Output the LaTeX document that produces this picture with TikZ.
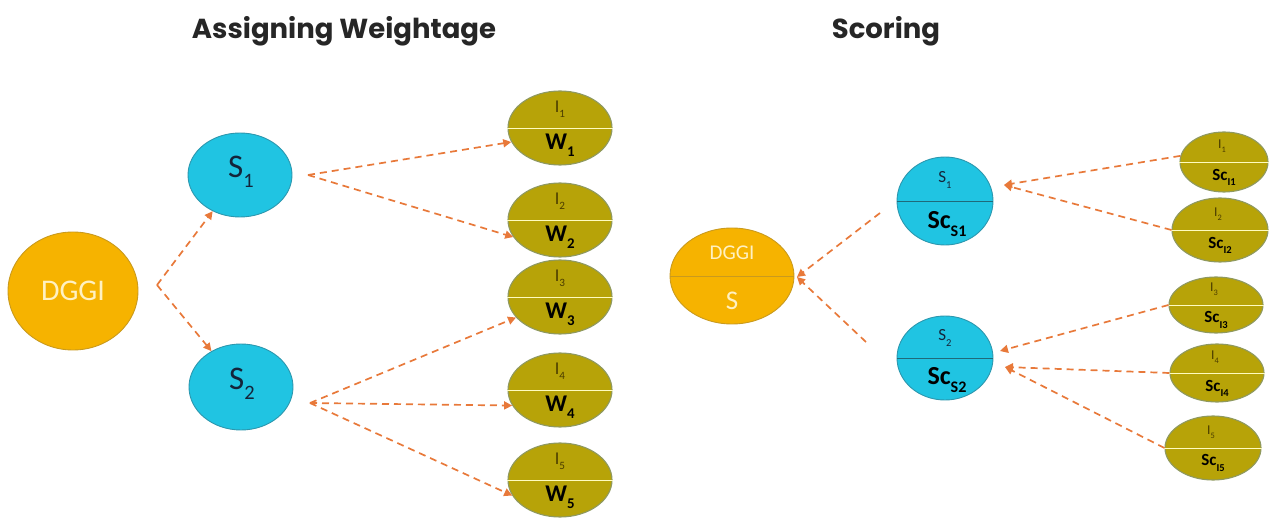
\documentclass[tikz,border=0pt]{standalone}
\usepackage{fontspec}
\usepackage{graphicx}
\setmainfont{Carlito}
\newfontfamily\titlefont{Poppins}
\usetikzlibrary{shapes.geometric,arrows.meta}
\definecolor{orangeC}{HTML}{F6B300}
\definecolor{orangeB}{HTML}{C99A1E}
\definecolor{cyanC}{HTML}{20C4E2}
\definecolor{cyanB}{HTML}{2C97AE}
\definecolor{oliveC}{HTML}{B7A308}
\definecolor{oliveB}{HTML}{8F9960}
\definecolor{arrowC}{HTML}{E8793A}
\definecolor{creamC}{HTML}{FFF1C2}
\definecolor{navyC}{HTML}{14243A}
\definecolor{darkOl}{HTML}{4A3C00}
\newcommand\mysub[1]{\raisebox{-0.3em}{\scalebox{0.62}{#1}}}
\tikzset{
  orangeE/.style={ellipse, fill=orangeC, draw=orangeB, line width=0.9pt, inner sep=0pt},
  cyanE/.style={ellipse, fill=cyanC, draw=cyanB, line width=0.9pt, inner sep=0pt},
  oliveE/.style={ellipse, fill=oliveC, draw=oliveB, line width=1.1pt, inner sep=0pt},
  divW/.style={draw=white!75!yellow, line width=0.8pt},
  divC/.style={draw=cyanB!70!black, line width=0.9pt},
  divO/.style={draw=orangeB, line width=0.8pt},
  arr/.style={draw=arrowC, line width=1.7pt, dash pattern=on 7pt off 5pt,
    -{Triangle[length=8pt,width=8pt]}},
  ttl/.style={font=\titlefont\bfseries\fontsize{27.5}{32}\selectfont, text=black!85},
  txt/.style={inner sep=0pt}
}
\begin{document}
\begin{tikzpicture}[x=1pt,y=-1pt]
\useasboundingbox (0,0) rectangle (1272,518);
% titles
\node[ttl] (t1) at (344,31) {Assigning Weightage};
\node[ttl] (t2) at (886,31) {Scoring};

% ---------- left side ----------
\node[orangeE, minimum width=130pt, minimum height=118pt] (dggi) at (73,291) {};
\node[txt, text=creamC, font=\fontsize{30}{34}\selectfont] (dggiT) at (dggi.center) {DGGI};
\node[cyanE, minimum width=104pt, minimum height=84pt] (s1) at (240,175) {};
\node[txt, text=navyC, font=\fontsize{33}{36}\selectfont] (s1T) at (241,172) {S\mysub{1}};
\node[cyanE, minimum width=104pt, minimum height=86pt] (s2) at (241,387) {};
\node[txt, text=navyC, font=\fontsize{33}{36}\selectfont] (s2T) at (242,384) {S\mysub{2}};

\foreach \n/\y in {1/128,2/220,3/297,4/390,5/480}{
  \node[oliveE, minimum width=104pt, minimum height=74pt] (li\n) at (560,\y) {};
  \draw[divW] (li\n.west) -- (li\n.east);
  \node[txt, text=darkOl, font=\fontsize{18}{20}\selectfont] (liI\n) at (560,\y-19) {I\mysub{\n}};
  \node[txt, text=black, font=\bfseries\fontsize{24}{27}\selectfont] (liW\n) at (560,\y+17) {W\mysub{\n}};
}

\coordinate (h0) at (157,285);
\coordinate (h1) at (308,175);
\coordinate (h2) at (310,403);
\draw[arr] (h0) -- (s1);
\draw[arr] (h0) -- (s2);
\draw[arr] (h1) -- (li1.196);
\draw[arr] (h1) -- (li2.200);
\draw[arr] (h2) -- (li3.205);
\draw[arr] (h2) -- (li4.198);
\draw[arr] (h2) -- (li5.198);

% ---------- right side ----------
\node[orangeE, minimum width=124pt, minimum height=96pt] (rd) at (732,276) {};
\draw[divO] (rd.west) -- (rd.east);
\node[txt, text=creamC, font=\fontsize{21}{24}\selectfont] (rdT) at (732,253) {DGGI};
\node[txt, text=creamC, font=\fontsize{27}{30}\selectfont] (rdS) at (732,301) {S};

\node[cyanE, minimum width=96pt, minimum height=88pt] (rs1) at (945,201) {};
\draw[divC] (rs1.west) -- (rs1.east);
\node[txt, text=navyC, font=\fontsize{17}{19}\selectfont] (rs1T) at (945,180) {S\mysub{1}};
\node[txt, text=black, font=\bfseries\fontsize{26}{30}\selectfont] (rs1B) at (947,224) {Sc\mysub{S1}};
\node[cyanE, minimum width=96pt, minimum height=84pt] (rs2) at (945,358) {};
\draw[divC] (rs2.west) -- (rs2.east);
\node[txt, text=navyC, font=\fontsize{17}{19}\selectfont] (rs2T) at (945,338) {S\mysub{2}};
\node[txt, text=black, font=\bfseries\fontsize{26}{30}\selectfont] (rs2B) at (947,380) {Sc\mysub{S2}};

\foreach \n/\x/\y/\w/\h in {1/1224/162/88/60, 2/1220/230/96/64, 3/1216/305/94/56, 4/1217/373/94/58, 5/1213/448/96/64}{
  \node[oliveE, minimum width=\w pt, minimum height=\h pt] (ri\n) at (\x,\y) {};
  \draw[divW] (ri\n.west) -- (ri\n.east);
  \node[txt, text=darkOl, font=\fontsize{13.5}{15}\selectfont] (riI\n) at (\x-2,\y-16) {I\mysub{\n}};
  \node[txt, text=black, font=\bfseries\fontsize{17}{20}\selectfont] (riS\n) at (\x,\y+15) {Sc\mysub{I\n}};
}

\coordinate (g1) at (880,213);
\coordinate (g2) at (866,342);
\coordinate (e0) at (797,277);
\coordinate (e1) at (1004,185);
\coordinate (e2) at (1000,351);
\coordinate (e3) at (1005,367);
\draw[arr] (g1) -- (e0);
\draw[arr] (g2) -- (e0);
\draw[arr] (ri1.172) -- (e1);
\draw[arr] (ri2.west) -- (e1);
\draw[arr] (ri3.west) -- (e2);
\draw[arr] (ri4.west) -- (e3);
\draw[arr] (ri5.west) -- (e3);
\end{tikzpicture}
\end{document}
